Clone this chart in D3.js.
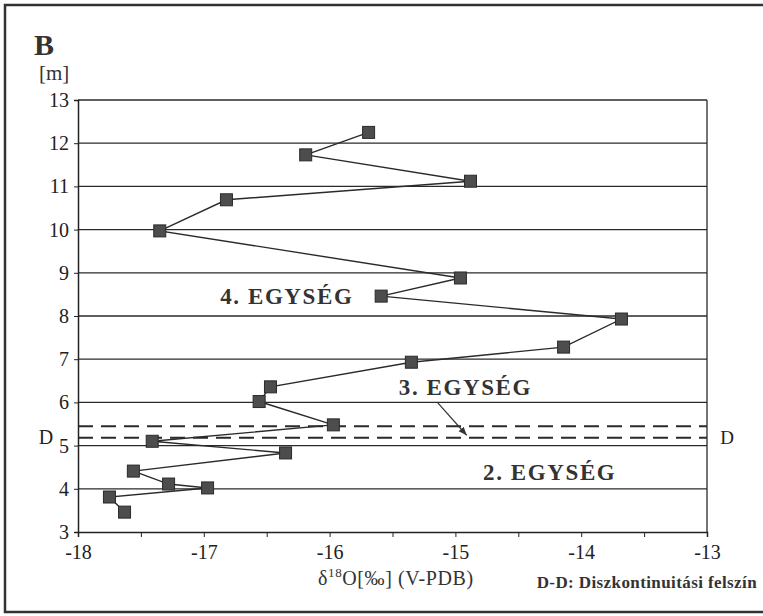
<!DOCTYPE html>
<html>
<head>
<meta charset="utf-8">
<script src="https://cdn.jsdelivr.net/npm/d3@7"></script>
<style>
  body { margin: 0; background: #fff; }
  svg { display: block; }
  .axis path, .axis line { stroke: #222; }
  .axis text { font-family: "Liberation Serif", serif; font-size: 20px; fill: #222; }
</style>
</head>
<body>
<script>
// mélység (m) és δ18O értékek, alulról felfelé a rajzolás sorrendjében
var depth = [3.46, 3.81, 4.02, 4.11, 4.41, 4.83, 5.10, 5.48, 6.02, 6.36, 6.93, 7.28, 7.93, 8.46, 8.88, 9.97, 10.69, 11.12, 11.73, 12.25];
var d18O = [-17.63, -17.75, -16.97, -17.28, -17.56, -16.35, -17.41, -15.97, -16.56, -16.47, -15.35, -14.14, -13.68, -15.59, -14.96, -17.35, -16.82, -14.88, -16.19, -15.69];
var xTicks = [-18, -17, -16, -15, -14, -13];
var yTicks = [3, 4, 5, 6, 7, 8, 9, 10, 11, 12, 13];
var dLines = [5.45, 5.18]; // diszkontinuitási felszín
var units = [
  { label: "4. EGYSÉG", x: -16.87, y: 8.28 },
  { label: "3. EGYSÉG", x: -15.45, y: 6.17 },
  { label: "2. EGYSÉG", x: -14.78, y: 4.2 }
];

var W = 763, H = 616;
var margin = { top: 100, right: 56, bottom: 84, left: 78 },
    width = W - margin.left - margin.right,
    height = H - margin.top - margin.bottom;

var x = d3.scaleLinear().domain([-18, -13]).range([0, width]);
var y = d3.scaleLinear().domain([3, 13]).range([height, 0]);

var root = d3.select("body").append("svg")
    .attr("width", W)
    .attr("height", H);

// külső keret
root.append("rect")
    .attr("x", 5).attr("y", 5)
    .attr("width", W + 10).attr("height", H - 9)
    .attr("fill", "none").attr("stroke", "#333").attr("stroke-width", 2.5);

var svg = root.append("g")
    .attr("transform", "translate(" + margin.left + "," + margin.top + ")");

// vízszintes rácsvonalak
svg.append("g").selectAll("line")
    .data(yTicks.slice(1))
    .enter().append("line")
    .attr("x1", 0).attr("x2", width)
    .attr("y1", function (d) { return y(d); })
    .attr("y2", function (d) { return y(d); })
    .attr("stroke", "#2a2a2a").attr("stroke-width", 1.3);

// jobb oldali keret
svg.append("line")
    .attr("x1", width).attr("x2", width)
    .attr("y1", 0).attr("y2", height)
    .attr("stroke", "#2a2a2a").attr("stroke-width", 1.3);

// szaggatott vonalak (D-D)
svg.append("g").selectAll("line")
    .data(dLines)
    .enter().append("line")
    .attr("x1", 0).attr("x2", width)
    .attr("y1", function (d) { return y(d); })
    .attr("y2", function (d) { return y(d); })
    .attr("stroke", "#2a2a2a").attr("stroke-width", 2)
    .attr("stroke-dasharray", "15,8");

// x tengely
var xAxis = d3.axisBottom(x)
    .tickValues(d3.range(-18, -12.99, 0.5))
    .tickSize(5)
    .tickFormat(function (d) { return Number.isInteger(d) ? d : ""; });
svg.append("g")
    .attr("class", "x axis")
    .attr("transform", "translate(0," + height + ")")
    .call(xAxis)
    .call(function (g) {
        g.select(".domain").attr("stroke-width", 1.5);
        g.selectAll("text").attr("dy", "0.95em");
    });

// y tengely
var yAxis = d3.axisLeft(y).tickValues(yTicks).tickSize(4).tickPadding(5);
svg.append("g")
    .attr("class", "y axis")
    .call(yAxis)
    .call(function (g) {
        g.select(".domain").attr("stroke-width", 1.5);
    });

// adatvonal
var line = d3.line()
    .x(function (d, i) { return x(d18O[i]); })
    .y(function (d) { return y(d); });
svg.append("path")
    .datum(depth)
    .attr("d", line)
    .attr("fill", "none")
    .attr("stroke", "#2a2a2a")
    .attr("stroke-width", 1.4);

// négyzet jelölők
var s = 12;
svg.append("g").selectAll("rect")
    .data(depth)
    .enter().append("rect")
    .attr("x", function (d, i) { return x(d18O[i]) - s / 2; })
    .attr("y", function (d) { return y(d) - s / 2; })
    .attr("width", s).attr("height", s)
    .attr("fill", "#4d4d4d").attr("stroke", "#2a2a2a").attr("stroke-width", 1);

// egység feliratok
svg.append("g").selectAll("text")
    .data(units)
    .enter().append("text")
    .attr("x", function (d) { return x(d.x); })
    .attr("y", function (d) { return y(d.y); })
    .style("font-family", "'Liberation Serif', serif")
    .style("font-weight", "bold")
    .style("font-size", "23px")
    .style("letter-spacing", "1.6px")
    .attr("fill", "#333")
    .text(function (d) { return d.label; });

// nyíl a 3. egységhez
var defs = root.append("defs");
defs.append("marker")
    .attr("id", "arr").attr("viewBox", "0 0 10 10")
    .attr("refX", 10).attr("refY", 5)
    .attr("markerWidth", 7).attr("markerHeight", 7)
    .attr("orient", "auto")
    .append("path").attr("d", "M0,1 L10,5 L0,9 Z").attr("fill", "#333");
svg.append("line")
    .attr("x1", x(-15.14)).attr("y1", y(5.99))
    .attr("x2", x(-14.91)).attr("y2", y(5.24))
    .attr("stroke", "#333").attr("stroke-width", 1.2)
    .attr("marker-end", "url(#arr)");

// D jelek
svg.append("text")
    .attr("x", -32).attr("y", y(5.2)).attr("dy", "0.35em")
    .attr("text-anchor", "middle")
    .style("font-family", "'Liberation Serif', serif").style("font-size", "20px")
    .attr("fill", "#222").text("D");
svg.append("text")
    .attr("x", width + 20).attr("y", y(5.18)).attr("dy", "0.35em")
    .attr("text-anchor", "middle")
    .style("font-family", "'Liberation Serif', serif").style("font-size", "19px")
    .attr("fill", "#222").text("D");

// cím és mértékegység
root.append("text")
    .attr("x", 34).attr("y", 55)
    .style("font-family", "'Liberation Serif', serif")
    .style("font-weight", "bold").style("font-size", "30px")
    .attr("fill", "#333").text("B");
root.append("text")
    .attr("x", 39).attr("y", 80)
    .style("font-family", "'Liberation Serif', serif")
    .style("font-size", "21px")
    .attr("fill", "#333").text("[m]");

// x tengely felirat
var xt = root.append("text")
    .attr("x", 318).attr("y", 585)
    .style("font-family", "'Liberation Serif', serif")
    .style("font-size", "20px")
    .style("letter-spacing", "0.6px")
    .attr("fill", "#333");
xt.append("tspan").text("δ");
xt.append("tspan").attr("dy", -8).style("font-size", "13px").text("18");
xt.append("tspan").attr("dy", 8).text("O[‰] (V-PDB)");

root.append("text")
    .attr("x", 757).attr("y", 588)
    .attr("text-anchor", "end")
    .style("font-family", "'Liberation Serif', serif")
    .style("font-weight", "bold").style("font-size", "17px")
    .style("letter-spacing", "0.4px")
    .attr("fill", "#333").text("D-D: Diszkontinuitási felszín");
</script>
</body>
</html>
